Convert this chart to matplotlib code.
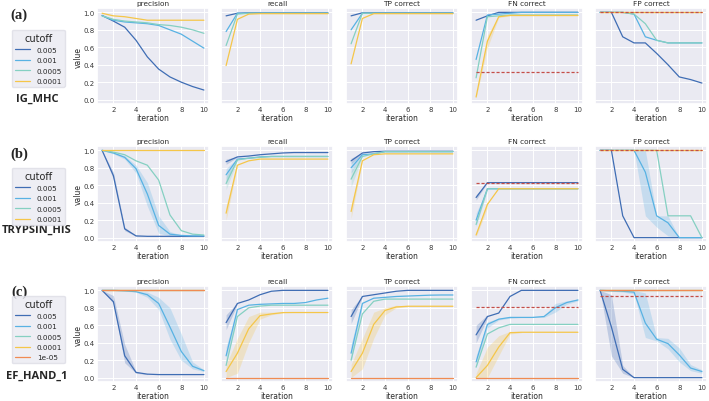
import matplotlib
matplotlib.use('Agg')
import matplotlib.pyplot as plt
import seaborn as sns
from matplotlib.lines import Line2D

sns.set_theme(style='darkgrid')
plt.rcParams['font.family'] = ['DejaVu Sans']
plt.rcParams['font.size'] = 5

# ---------------- data ----------------
iterations = [1, 2, 3, 4, 5, 6, 7, 8, 9, 10]
metrics = ['precision', 'recall', 'TP correct', 'FN correct', 'FP correct']
row_tags = ['(a)', '(b)', '(c)']
row_names = ['IG_MHC', 'TRYPSIN_HIS', 'EF_HAND_1']
cutoffs_ab = ['0.005', '0.001', '0.0005', '0.0001']
cutoffs_c = ['0.005', '0.001', '0.0005', '0.0001', '1e-05']
colors = ['#3f6db4', '#58b2e3', '#85d0c2', '#f5c649', '#f08b52']

# (a) IG_MHC
ig_precision = [[0.965, 0.90, 0.83, 0.68, 0.49, 0.35, 0.26, 0.20, 0.15, 0.11],
                [0.96, 0.91, 0.89, 0.88, 0.87, 0.85, 0.80, 0.75, 0.67, 0.59],
                [0.96, 0.92, 0.90, 0.89, 0.88, 0.86, 0.85, 0.83, 0.80, 0.76],
                [0.99, 0.96, 0.95, 0.93, 0.91, 0.91, 0.91, 0.91, 0.91, 0.91]]
ig_recall = [[0.96, 0.99, 0.995, 0.995, 0.995, 0.995, 0.995, 0.995, 0.995, 0.995],
             [0.78, 0.99, 0.99, 0.99, 0.99, 0.99, 0.99, 0.99, 0.99, 0.99],
             [0.62, 0.98, 0.99, 0.99, 0.99, 0.99, 0.99, 0.99, 0.99, 0.99],
             [0.39, 0.92, 0.98, 0.985, 0.985, 0.985, 0.985, 0.985, 0.985, 0.985]]
ig_tp = [[0.96, 0.995, 0.995, 0.995, 0.995, 0.995, 0.995, 0.995, 0.995, 0.995],
         [0.80, 0.99, 0.99, 0.99, 0.99, 0.99, 0.99, 0.99, 0.99, 0.99],
         [0.64, 0.99, 0.99, 0.99, 0.99, 0.99, 0.99, 0.99, 0.99, 0.99],
         [0.41, 0.93, 0.985, 0.985, 0.985, 0.985, 0.985, 0.985, 0.985, 0.985]]
ig_fn = [[0.91, 0.96, 1.0, 1.0, 1.0, 1.0, 1.0, 1.0, 1.0, 1.0],
         [0.46, 0.97, 0.98, 0.99, 1.0, 1.0, 1.0, 1.0, 1.0, 1.0],
         [0.25, 0.95, 0.96, 0.97, 0.97, 0.97, 0.97, 0.97, 0.97, 0.97],
         [0.03, 0.67, 0.95, 0.965, 0.965, 0.965, 0.965, 0.965, 0.965, 0.965]]
ig_fp = [[1.0, 1.0, 0.72, 0.65, 0.65, 0.53, 0.40, 0.26, 0.23, 0.19],
         [1.0, 1.0, 1.0, 0.98, 0.72, 0.68, 0.65, 0.65, 0.65, 0.65],
         [1.0, 1.0, 1.0, 0.98, 0.87, 0.68, 0.65, 0.65, 0.65, 0.65],
         [1.0, 1.0, 1.0, 1.0, 1.0, 1.0, 1.0, 1.0, 1.0, 1.0]]
ig_ref = [0.32, 1.0]   # dashed reference for FN / FP correct

# (b) TRYPSIN_HIS
tr_precision = [[1.0, 0.71, 0.10, 0.02, 0.015, 0.015, 0.015, 0.015, 0.015, 0.015],
                [1.0, 0.97, 0.92, 0.79, 0.50, 0.14, 0.04, 0.025, 0.02, 0.02],
                [1.0, 0.98, 0.95, 0.88, 0.83, 0.66, 0.26, 0.08, 0.04, 0.03],
                [1.0, 1.0, 1.0, 1.0, 1.0, 1.0, 1.0, 1.0, 1.0, 1.0]]
tr_recall = [[0.87, 0.925, 0.935, 0.95, 0.96, 0.97, 0.975, 0.975, 0.975, 0.975],
             [0.72, 0.90, 0.91, 0.925, 0.93, 0.93, 0.93, 0.93, 0.93, 0.93],
             [0.62, 0.89, 0.91, 0.92, 0.93, 0.93, 0.93, 0.93, 0.93, 0.93],
             [0.28, 0.83, 0.88, 0.90, 0.90, 0.90, 0.90, 0.90, 0.90, 0.90]]
tr_tp = [[0.88, 0.97, 0.985, 0.99, 0.99, 0.99, 0.99, 0.99, 0.99, 0.99],
         [0.80, 0.95, 0.96, 0.985, 0.985, 0.985, 0.985, 0.985, 0.985, 0.985],
         [0.67, 0.93, 0.96, 0.985, 0.985, 0.985, 0.985, 0.985, 0.985, 0.985],
         [0.30, 0.88, 0.95, 0.96, 0.96, 0.96, 0.96, 0.96, 0.96, 0.96]]
tr_fn = [[0.46, 0.63, 0.63, 0.63, 0.63, 0.63, 0.63, 0.63, 0.63, 0.63],
         [0.20, 0.56, 0.56, 0.56, 0.56, 0.56, 0.56, 0.56, 0.56, 0.56],
         [0.15, 0.56, 0.56, 0.56, 0.56, 0.56, 0.56, 0.56, 0.56, 0.56],
         [0.03, 0.38, 0.56, 0.56, 0.56, 0.56, 0.56, 0.56, 0.56, 0.56]]
tr_fp = [[1.0, 1.0, 0.25, 0.0, 0.0, 0.0, 0.0, 0.0, 0.0, 0.0],
         [1.0, 1.0, 1.0, 1.0, 0.75, 0.25, 0.17, 0.0, 0.0, 0.0],
         [1.0, 1.0, 1.0, 1.0, 1.0, 1.0, 0.25, 0.25, 0.25, 0.0],
         [1.0, 1.0, 1.0, 1.0, 1.0, 1.0, 1.0, 1.0, 1.0, 1.0]]
tr_ref = [0.63, 1.0]

# (c) EF_HAND_1
ef_precision = [[1.0, 0.87, 0.25, 0.06, 0.04, 0.035, 0.035, 0.035, 0.035, 0.035],
                [1.0, 1.0, 0.995, 0.985, 0.95, 0.85, 0.58, 0.30, 0.13, 0.08],
                [1.0, 1.0, 1.0, 1.0, 1.0, 1.0, 1.0, 1.0, 1.0, 1.0],
                [1.0, 1.0, 1.0, 1.0, 1.0, 1.0, 1.0, 1.0, 1.0, 1.0],
                [1.0, 1.0, 1.0, 1.0, 1.0, 1.0, 1.0, 1.0, 1.0, 1.0]]
ef_recall = [[0.63, 0.85, 0.89, 0.95, 0.99, 1.0, 1.0, 1.0, 1.0, 1.0],
             [0.25, 0.78, 0.83, 0.84, 0.845, 0.85, 0.85, 0.86, 0.89, 0.91],
             [0.14, 0.70, 0.80, 0.82, 0.83, 0.83, 0.83, 0.83, 0.83, 0.83],
             [0.07, 0.28, 0.56, 0.71, 0.73, 0.745, 0.746, 0.746, 0.746, 0.746],
             [0.0, 0.0, 0.0, 0.0, 0.0, 0.0, 0.0, 0.0, 0.0, 0.0]]
ef_tp = [[0.70, 0.93, 0.95, 0.97, 0.99, 1.0, 1.0, 1.0, 1.0, 1.0],
         [0.28, 0.85, 0.91, 0.92, 0.93, 0.935, 0.94, 0.945, 0.947, 0.947],
         [0.20, 0.73, 0.875, 0.90, 0.90, 0.90, 0.90, 0.90, 0.90, 0.90],
         [0.07, 0.28, 0.61, 0.77, 0.81, 0.818, 0.818, 0.818, 0.818, 0.818],
         [0.0, 0.0, 0.0, 0.0, 0.0, 0.0, 0.0, 0.0, 0.0, 0.0]]
ef_fn = [[0.49, 0.70, 0.74, 0.93, 1.0, 1.0, 1.0, 1.0, 1.0, 1.0],
         [0.18, 0.61, 0.67, 0.69, 0.69, 0.69, 0.70, 0.80, 0.86, 0.89],
         [0.12, 0.50, 0.57, 0.61, 0.61, 0.61, 0.61, 0.61, 0.61, 0.61],
         [0.0, 0.14, 0.35, 0.515, 0.52, 0.52, 0.52, 0.52, 0.52, 0.52],
         [0.0, 0.0, 0.0, 0.0, 0.0, 0.0, 0.0, 0.0, 0.0, 0.0]]
ef_fp = [[1.0, 0.58, 0.095, 0.0, 0.0, 0.0, 0.0, 0.0, 0.0, 0.0],
         [1.0, 0.995, 0.99, 0.98, 0.625, 0.44, 0.39, 0.26, 0.11, 0.07],
         [1.0, 1.0, 1.0, 1.0, 1.0, 1.0, 1.0, 1.0, 1.0, 1.0],
         [1.0, 1.0, 1.0, 1.0, 1.0, 1.0, 1.0, 1.0, 1.0, 1.0],
         [1.0, 1.0, 1.0, 1.0, 1.0, 1.0, 1.0, 1.0, 1.0, 1.0]]
ef_ref = [0.81, 0.93]

# shaded error bands: (metric index, series index, lower, upper)
ig_bands = [(3, 3, [0.02, 0.59, 0.94, 0.96, 0.96, 0.96, 0.96, 0.96, 0.96, 0.96],
                   [0.05, 0.74, 0.96, 0.97, 0.97, 0.97, 0.97, 0.97, 0.97, 0.97])]
tr_bands = [(0, 0, [1.0, 0.67, 0.08, 0.015, 0.015, 0.015, 0.015, 0.015, 0.015, 0.015],
                   [1.0, 0.75, 0.12, 0.025, 0.015, 0.015, 0.015, 0.015, 0.015, 0.015]),
            (0, 1, [1.0, 0.96, 0.90, 0.74, 0.36, 0.05, 0.02, 0.02, 0.02, 0.02],
                   [1.0, 0.98, 0.94, 0.83, 0.63, 0.25, 0.07, 0.03, 0.02, 0.02]),
            (1, 0, [0.84, 0.92], [0.90, 0.93]),
            (1, 1, [0.64, 0.89], [0.79, 0.91]),
            (1, 2, [0.55, 0.88], [0.70, 0.90]),
            (1, 3, [0.20, 0.82], [0.36, 0.84]),
            (2, 0, [0.85, 0.96], [0.91, 0.975]),
            (2, 1, [0.74, 0.94], [0.86, 0.96]),
            (2, 2, [0.58, 0.92], [0.76, 0.94]),
            (2, 3, [0.22, 0.87], [0.38, 0.89]),
            (3, 0, [0.43, 0.63], [0.49, 0.63]),
            (3, 1, [0.13, 0.54], [0.28, 0.57]),
            (3, 3, [0.01, 0.34], [0.06, 0.42]),
            (4, 1, [1.0, 1.0, 1.0, 1.0, 0.25, 0.12, 0.02, 0.0, 0.0, 0.0],
                   [1.0, 1.0, 1.0, 1.0, 1.0, 0.25, 0.25, 0.0, 0.0, 0.0])]
ef_bands = [(0, 0, [1.0, 0.85, 0.17, 0.05, 0.035], [1.0, 0.94, 0.38, 0.07, 0.04]),
            (0, 1, [1.0, 1.0, 0.99, 0.98, 0.92, 0.78, 0.44, 0.20, 0.10, 0.07],
                   [1.0, 1.0, 1.0, 0.99, 0.98, 0.92, 0.80, 0.50, 0.18, 0.09]),
            (1, 0, [0.55, 0.84], [0.72, 0.86]),
            (1, 1, [0.15, 0.74], [0.35, 0.80]),
            (1, 3, [0.0, 0.05, 0.40, 0.67, 0.72, 0.74], [0.15, 0.45, 0.70, 0.75, 0.75, 0.75]),
            (2, 0, [0.62, 0.92], [0.78, 0.94]),
            (2, 1, [0.18, 0.82], [0.38, 0.88]),
            (2, 3, [0.0, 0.10, 0.45, 0.72, 0.80, 0.815], [0.15, 0.45, 0.75, 0.80, 0.83, 0.82]),
            (3, 0, [0.40, 0.68], [0.60, 0.72]),
            (3, 1, [0.12, 0.57, 0.66, 0.68, 0.69, 0.69, 0.69, 0.75, 0.84, 0.88],
                   [0.25, 0.64, 0.68, 0.70, 0.70, 0.70, 0.71, 0.85, 0.88, 0.90]),
            (3, 3, [0.0, 0.0, 0.25, 0.50, 0.515], [0.05, 0.35, 0.48, 0.53, 0.525]),
            (4, 0, [1.0, 0.25, 0.05, 0.0], [1.0, 0.95, 0.14, 0.0]),
            (4, 1, [1.0, 0.99, 0.98, 0.96, 0.46, 0.42, 0.33, 0.18, 0.08, 0.05],
                   [1.0, 1.0, 1.0, 1.0, 0.97, 0.46, 0.45, 0.34, 0.15, 0.09])]

rows = [
    ([ig_precision, ig_recall, ig_tp, ig_fn, ig_fp], ig_ref, ig_bands, cutoffs_ab),
    ([tr_precision, tr_recall, tr_tp, tr_fn, tr_fp], tr_ref, tr_bands, cutoffs_ab),
    ([ef_precision, ef_recall, ef_tp, ef_fn, ef_fp], ef_ref, ef_bands, cutoffs_c),
]

# ---------------- layout (pixel boxes) ----------------
W, H = 709, 402
col_left = [97, 221, 346, 471, 595]
col_w = 112
row_top = [9, 147, 287]
row_h = 96
legend_top = [31, 169, 297]
tag_y = [15, 154, 292]
name_y = [99, 230, 376]

fig = plt.figure(figsize=(W / 100, H / 100), dpi=100)

for r, (panels, ref, bands, cutoffs) in enumerate(rows):
    for c, data in enumerate(panels):
        ax = fig.add_axes([col_left[c] / W, 1 - (row_top[r] + row_h) / H,
                           col_w / W, row_h / H])
        for m, b, lo, hi in bands:
            if m == c:
                ax.fill_between(iterations[:len(lo)], lo, hi,
                                color=colors[b], alpha=0.25, lw=0)
        for s, vals in enumerate(data):
            ax.plot(iterations, vals, color=colors[s], lw=0.9)
        if c >= 3:
            v = ref[c - 3]
            ax.plot([iterations[0], iterations[-1]], [v, v], color='#c44e48',
                    lw=0.9, ls=(0, (2.5, 1.5)))
        ax.set_xlim(0.55, 10.45)
        ax.set_ylim(-0.05, 1.05)
        ax.set_xticks([2, 4, 6, 8, 10])
        ax.set_yticks([0.0, 0.2, 0.4, 0.6, 0.8, 1.0])
        ax.tick_params(labelsize=5, pad=1.5, length=0, labelcolor='#3a3a3a')
        ax.set_title(metrics[c], fontsize=5.3, pad=2, color='#2a2a2a')
        ax.set_xlabel('iteration', fontsize=5.5, labelpad=0.5, color='#2a2a2a')
        if c == 0:
            ax.set_ylabel('value', fontsize=5.5, labelpad=1, color='#2a2a2a')
        else:
            ax.set_yticklabels([])
        ax.grid(color='white', lw=0.7)

    handles = [Line2D([], [], color=colors[i], lw=0.9) for i in range(len(cutoffs))]
    leg = fig.legend(handles, cutoffs, title='cutoff', loc='upper left',
                     bbox_to_anchor=(12 / W, 1 - legend_top[r] / H),
                     fontsize=5.2, title_fontsize=7, frameon=True,
                     facecolor='#eaeaf2', edgecolor='#dddde6',
                     labelspacing=0.6, handlelength=2.2, borderpad=0.35,
                     handletextpad=0.9, borderaxespad=0)
    fig.text(19 / W, 1 - tag_y[r] / H, row_tags[r], fontsize=10.5, fontweight='bold',
             family='Liberation Serif', ha='center', va='center')
    fig.text(37 / W, 1 - name_y[r] / H, row_names[r], fontsize=8, fontweight='bold',
             family='Open Sans', ha='center', va='center')

fig.savefig('out.png', dpi=100)
